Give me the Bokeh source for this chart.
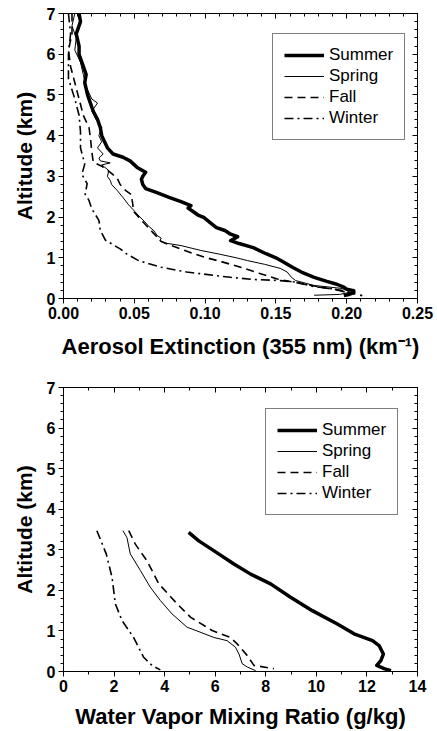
from bokeh.plotting import figure
from bokeh.models import (Range1d, LinearAxis, FixedTicker, NumeralTickFormatter,
                          Legend, LegendItem, CustomLabelingPolicy)
from bokeh.layouts import column
from bokeh.embed import file_html
from bokeh.resources import INLINE

# ---------------- Aerosol extinction (km^-1) vs altitude (km) ----------------
summer_alt = [7.0, 6.8, 6.5, 6.2, 6.0, 5.8, 5.5, 5.3, 5.0, 4.8, 4.6, 4.4, 4.2, 4.0, 3.85, 3.7,
              3.55, 3.47, 3.38, 3.22, 3.1, 3.0, 2.93, 2.8, 2.7, 2.6, 2.48, 2.38, 2.28, 2.22,
              2.15, 2.05, 1.99, 1.85, 1.74, 1.67, 1.58, 1.52, 1.42, 1.35, 1.25, 1.1, 1.0,
              0.9, 0.76, 0.65, 0.52, 0.42, 0.35, 0.28, 0.23, 0.19, 0.14, 0.1, 0.07]
summer_ext = [0.011, 0.012, 0.009, 0.011, 0.011, 0.013, 0.016, 0.015, 0.017, 0.019, 0.021,
              0.024, 0.026, 0.027, 0.029, 0.031, 0.035, 0.042, 0.047, 0.052, 0.058, 0.056,
              0.055, 0.056, 0.058, 0.066, 0.075, 0.083, 0.090, 0.088, 0.091, 0.095, 0.099,
              0.104, 0.108, 0.114, 0.118, 0.123, 0.118, 0.124, 0.134, 0.143, 0.150, 0.155,
              0.162, 0.168, 0.177, 0.186, 0.193, 0.198, 0.200, 0.205, 0.205, 0.2016, 0.198]

spring_alt = [7.0, 6.7, 6.4, 6.1, 5.8, 5.5, 5.2, 4.9, 4.8, 4.6, 4.4, 4.2, 4.0, 3.85, 3.7,
              3.55, 3.45, 3.38, 3.33, 3.28, 3.2, 3.14, 3.0, 2.9, 2.8, 2.65, 2.48, 2.3, 2.15,
              2.0, 1.9, 1.78, 1.66, 1.55, 1.48, 1.42, 1.36, 1.30, 1.18, 1.09, 1.0, 0.93,
              0.84, 0.74, 0.65, 0.52, 0.44, 0.32, 0.25, 0.2, 0.15, 0.1, 0.08]
spring_ext = [0.008, 0.006, 0.009, 0.008, 0.012, 0.014, 0.016, 0.020, 0.024, 0.020, 0.023,
              0.027, 0.025, 0.027, 0.024, 0.028, 0.025, 0.026, 0.033, 0.027, 0.030, 0.032,
              0.031, 0.033, 0.034, 0.038, 0.042, 0.046, 0.050, 0.054, 0.057, 0.060, 0.064,
              0.066, 0.069, 0.068, 0.072, 0.083, 0.097, 0.110, 0.122, 0.130, 0.142, 0.153,
              0.158, 0.161, 0.164, 0.177, 0.196, 0.200, 0.202, 0.195, 0.177]

fall_alt = [7.0, 6.5, 6.1, 5.7, 5.3, 4.9, 4.5, 4.2, 3.95, 3.6, 3.35, 3.25, 3.1, 2.95, 2.8,
            2.65, 2.55, 2.41, 2.3, 2.16, 2.0, 1.85, 1.7, 1.55, 1.4, 1.25, 1.1, 1.01, 0.9,
            0.77, 0.62, 0.48, 0.40, 0.28, 0.2, 0.07]
fall_ext = [0.006, 0.006, 0.0035, 0.005, 0.008, 0.011, 0.014, 0.018, 0.019, 0.020, 0.021,
            0.027, 0.033, 0.038, 0.040, 0.044, 0.048, 0.0485, 0.049, 0.049, 0.053, 0.057,
            0.061, 0.065, 0.069, 0.080, 0.092, 0.100, 0.112, 0.125, 0.138, 0.151, 0.163,
            0.181, 0.196, 0.211]

winter_alt = [7.0, 6.5, 6.0, 5.4, 4.9, 4.5, 4.1, 3.7, 3.3, 3.05, 2.82, 2.56, 2.41, 2.2,
              1.92, 1.67, 1.43, 1.22, 1.09, 0.93, 0.77, 0.65, 0.57, 0.52, 0.47, 0.44, 0.40,
              0.35, 0.29, 0.24, 0.15]
winter_ext = [0.0035, 0.005, 0.0035, 0.0035, 0.008, 0.011, 0.012, 0.012, 0.015, 0.013,
              0.0167, 0.0153, 0.018, 0.020, 0.025, 0.026, 0.0297, 0.040, 0.0448, 0.053,
              0.0685, 0.087, 0.106, 0.118, 0.133, 0.153, 0.165, 0.170, 0.177, 0.190, 0.200]

# ---------------- Water vapour mixing ratio (g/kg) vs altitude (km) ----------------
wv_summer_alt = [3.43, 3.22, 2.98, 2.65, 2.4, 2.16, 1.83, 1.5, 1.17, 0.93, 0.76, 0.64, 0.43,
                 0.27, 0.15, 0.07, 0.02]
wv_summer = [4.95, 5.35, 5.94, 6.74, 7.4, 8.19, 8.98, 9.84, 10.83, 11.49, 12.22, 12.48,
             12.65, 12.55, 12.39, 12.68, 12.95]

wv_spring_alt = [3.47, 3.3, 2.9, 2.49, 2.08, 1.75, 1.42, 1.09, 1.0, 0.84, 0.76, 0.6, 0.43,
                 0.19, 0.11, 0.02]
wv_spring = [2.35, 2.51, 2.64, 3.04, 3.43, 3.83, 4.29, 4.89, 5.28, 5.94, 6.47, 6.8, 6.94,
             7.07, 7.27, 7.6]

wv_fall_alt = [3.47, 3.14, 2.73, 2.16, 1.67, 1.34, 1.01, 0.84, 0.68, 0.39, 0.15, 0.07]
wv_fall = [2.58, 2.84, 3.30, 3.77, 4.49, 5.02, 5.88, 6.6, 6.87, 7.27, 7.53, 8.32]

wv_winter_alt = [3.47, 2.9, 2.32, 1.67, 1.26, 0.84, 0.35, 0.15, 0.04]
wv_winter = [1.32, 1.69, 1.92, 2.05, 2.31, 2.77, 3.17, 3.5, 3.83]

seasons = ["Summer", "Spring", "Fall", "Winter"]

FONT = "Liberation Sans"
styles = {
    "Summer": dict(line_width=3.5, line_dash="solid"),
    "Spring": dict(line_width=1, line_dash="solid"),
    "Fall": dict(line_width=1.6, line_dash="8 5"),
    "Winter": dict(line_width=1.6, line_dash="9 4 2 4"),
}

HIDE_LABELS = """
const r = indices;
for (let i = 0; i < r.size; i++) {
  if (typeof r.unset === 'function') { r.unset(i) } else { r.set(i, false) }
}
return r;
"""


def style_axis(ax, ticks, minor, outward=True, labels=True, label_size="22px"):
    ax.ticker = FixedTicker(ticks=ticks, minor_ticks=minor)
    ax.axis_line_color = "black"
    ax.major_tick_line_color = "black"
    ax.minor_tick_line_color = "black"
    if outward:
        ax.major_tick_out, ax.major_tick_in = 5, 0
        ax.minor_tick_out, ax.minor_tick_in = 3, 0
    else:
        ax.major_tick_out, ax.major_tick_in = 0, 5
        ax.minor_tick_out, ax.minor_tick_in = 0, 3
    if labels:
        ax.major_label_text_font = FONT
        ax.major_label_text_font_style = "bold"
        ax.major_label_text_font_size = "16px"
        ax.major_label_text_color = "black"
        ax.major_label_standoff = 3
        ax.axis_label_text_font = FONT
        ax.axis_label_text_font_style = "bold"
        ax.axis_label_text_font_size = label_size
        ax.axis_label_text_color = "black"
    else:
        ax.major_label_policy = CustomLabelingPolicy(code=HIDE_LABELS)
        ax.major_label_standoff = 0


def make_fig(height, x_end, xticks, xminor, xfmt, btop, bbottom, xlabel, xlabel_standoff,
             series, leg_loc):
    p = figure(width=437, height=height, x_range=Range1d(0, x_end), y_range=Range1d(0, 7),
               output_backend="svg", toolbar_location=None,
               min_border_left=63, min_border_right=20,
               min_border_top=btop, min_border_bottom=bbottom)
    p.grid.visible = False
    p.outline_line_color = "black"
    p.outline_line_alpha = 1
    p.background_fill_color = "white"
    p.border_fill_color = "white"

    yt = list(range(0, 8))
    ym = [i * 0.2 for i in range(0, 36)]

    xa = p.xaxis[0]
    style_axis(xa, xticks, xminor)
    xa.formatter = NumeralTickFormatter(format=xfmt)
    xa.axis_label = xlabel
    xa.axis_label_standoff = xlabel_standoff

    ya = p.yaxis[0]
    style_axis(ya, yt, ym, label_size="21px")
    ya.axis_label = "Altitude (km)"
    ya.axis_label_standoff = 8

    top = LinearAxis()
    style_axis(top, xticks, xminor, outward=False, labels=False)
    p.add_layout(top, "above")
    right = LinearAxis()
    style_axis(right, yt, ym, outward=False, labels=False)
    p.add_layout(right, "right")

    items = []
    for name, (xs, ys) in zip(seasons, series):
        r = p.line(xs, ys, line_color="black", line_join="round", **styles[name])
        items.append(LegendItem(label=name, renderers=[r]))

    leg = Legend(items=items, location=leg_loc)
    leg.border_line_color = "black"
    leg.border_line_width = 1
    leg.background_fill_color = "white"
    leg.label_text_font = FONT
    leg.label_text_font_size = "17px"
    leg.label_text_color = "black"
    leg.glyph_width = 40
    leg.glyph_height = 20
    leg.label_height = 20
    leg.label_standoff = 5
    leg.spacing = 1
    leg.padding = 11
    leg.margin = 0
    p.add_layout(leg)
    return p


p1 = make_fig(370, 0.25, [0, 0.05, 0.10, 0.15, 0.20, 0.25],
              [i * 0.01 for i in range(0, 26)], "0.00", 13, 72,
              "Aerosol Extinction (355 nm) (km\u207b\u00b9)", 12,
              [(summer_ext, summer_alt), (spring_ext, spring_alt),
               (fall_ext, fall_alt), (winter_ext, winter_alt)],
              (209, 158))

p2 = make_fig(361, 14, list(range(0, 15, 2)), list(range(0, 15)), "0", 17, 60,
              "Water Vapor Mixing Ratio (g/kg)", 9,
              [(wv_summer, wv_summer_alt), (wv_spring, wv_spring_alt),
               (wv_fall, wv_fall_alt), (wv_winter, wv_winter_alt)],
              (202, 156))

layout = column(p1, p2, spacing=0)
open("out.html", "w").write(file_html(layout, INLINE))
